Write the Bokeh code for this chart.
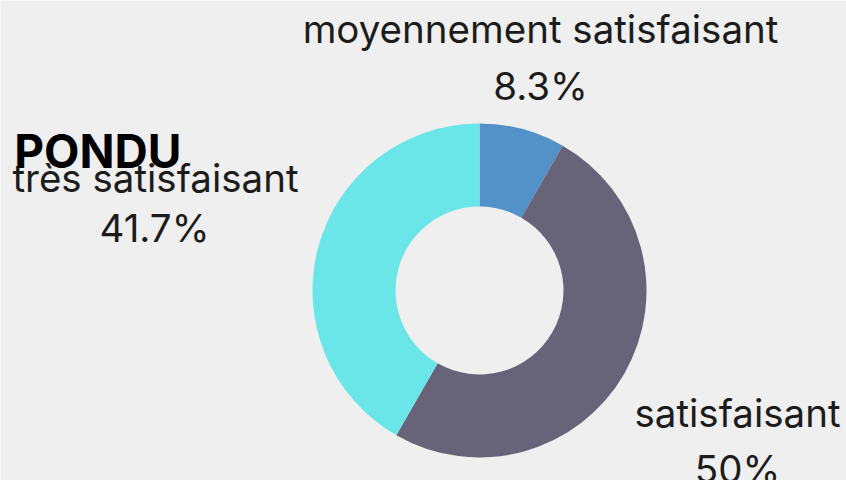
import numpy as np
from bokeh.plotting import figure
from bokeh.models import Range1d, ColumnDataSource
from bokeh.core.properties import value
from bokeh.embed import file_html
from bokeh.resources import INLINE

# ---- data ----
categories = ["moyennement satisfaisant", "satisfaisant", "très satisfaisant"]
percents = [8.3, 50.0, 41.7]
pct_labels = ["8.3%", "50%", "41.7%"]
colors = ["#5292c9", "#676479", "#6be6e8"]
title_text = "PONDU"

W, H = 846, 480
BG = "#efefef"

p = figure(width=W, height=H, output_backend="svg", toolbar_location=None,
           x_range=Range1d(0, W), y_range=Range1d(0, H), min_border=0)
p.axis.visible = False
p.grid.visible = False
p.outline_line_color = None
p.background_fill_color = BG
p.border_fill_color = BG

# reference pixel -> data coordinate helpers
def X(px):
    return px
def Y(py):
    return H - py

cx, cy = X(479), Y(290)
r_out, r_in = 167, 84

total = sum(percents)
fr = np.array(percents) / total
cum = np.concatenate([[0], np.cumsum(fr)])
start = np.pi / 2 - cum[:-1] * 2 * np.pi
end = np.pi / 2 - cum[1:] * 2 * np.pi

src = ColumnDataSource(dict(start=start, end=end, color=colors, cat=categories))
p.annular_wedge(x=cx, y=cy, inner_radius=r_in, outer_radius=r_out,
                start_angle="start", end_angle="end", direction="clock",
                fill_color="color", line_color=None, source=src)

# label layout (positions in reference pixels)
label_pos = [((540, 28), (540, 85)), ((737, 412), (737, 468)), ((155, 177), (154, 227))]
lx, ly, ltxt = [], [], []
for (a, b), cat, pl in zip(label_pos, categories, pct_labels):
    lx += [X(a[0]), X(b[0])]
    ly += [Y(a[1]), Y(b[1])]
    ltxt += [cat, pl]
p.text(x=lx, y=ly, text=ltxt, text_align="center", text_baseline="alphabetic",
       text_font=value("Inter"), text_font_size="38.5px", text_color="#1c1c1c")

p.text(x=[X(181)], y=[Y(150)], text=[title_text], text_align="right",
       text_baseline="alphabetic", text_font=value("Inter"), text_font_style="bold",
       text_font_size="46px", text_color="#000000")

open("out.html", "w").write(file_html(p, INLINE))
